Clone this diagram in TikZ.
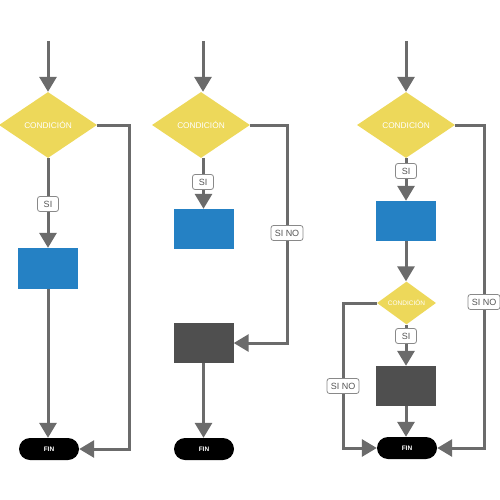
\documentclass[tikz,border=0pt]{standalone}
\usepackage{fontspec}
\setmainfont{Liberation Sans}
\usetikzlibrary{shapes.geometric,arrows.meta}
\definecolor{condyellow}{HTML}{EDD85A}
\definecolor{procblue}{HTML}{2581C4}
\definecolor{procdark}{HTML}{4F4F4F}
\definecolor{linegray}{HTML}{6B6B6B}
\begin{document}
\begin{tikzpicture}[x=1pt,y=-1pt,
  cond/.style={diamond, fill=condyellow, inner sep=0pt, minimum width=98pt, minimum height=66pt, text=white, font=\fontsize{8.3}{9}\selectfont},
  smallcond/.style={cond, minimum width=59pt, minimum height=40pt, font=\fontsize{6.5}{7}\selectfont},
  proc/.style={rectangle, inner sep=0pt, minimum width=60pt, minimum height=40pt},
  fin/.style={rectangle, rounded corners=11pt, fill=black, inner sep=0pt, minimum width=60pt, minimum height=22pt, text=white, font=\fontsize{6.5}{7}\selectfont\bfseries},
  tag/.style={rectangle, rounded corners=2.5pt, draw=linegray!80, line width=0.8pt, fill=white, inner sep=0pt, minimum height=15pt, minimum width=21pt, font=\fontsize{9}{10}\selectfont, text=linegray!80!black},
  flow/.style={draw=linegray, line width=3pt, -{Triangle[length=15pt,width=17pt]}}]
\useasboundingbox (0,0) rectangle (500,500);
\coordinate (top1) at (48,41);
\node[cond] (cond1) at (48,125){CONDICIÓN};
\node[proc, fill=procblue, minimum height=41pt] (proc1) at (48,268.5){};
\node[fin] (fin1) at (49,449){FIN};
\coordinate (turn1) at (129,125);
\draw[flow](top1) -- (cond1.north);
\draw[flow](cond1.south) -- (proc1.north);
\draw[flow](proc1.south) -- (fin1.north -| proc1.south);
\draw[flow](cond1.east) -- (turn1) |- (fin1.east);
\node[tag] (si1) at (48,204){SI};
\coordinate (top2) at (203,41);
\node[cond] (cond2) at (201,125){CONDICIÓN};
\node[proc, fill=procblue] (proc2) at (203.5,229){};
\node[proc, fill=procdark] (dark2) at (203.5,343){};
\node[fin] (fin2) at (204,449){FIN};
\coordinate (turn2) at (287,125);
\draw[flow](top2) -- (cond2.north -| top2);
\draw[flow](proc2.north |- cond2.south) -- (proc2.north);
\draw[flow](cond2.east) -- (turn2) |- (dark2.east);
\draw[flow](dark2.south) -- (fin2.north -| dark2.south);
\node[tag] (si2) at (203,182){SI};
\node[tag, minimum width=32pt] (sino2) at (287,233){SI NO};
\coordinate (top3) at (406,41);
\node[cond] (cond3) at (406,125){CONDICIÓN};
\node[proc, fill=procblue] (proc3) at (406,221){};
\node[smallcond] (cond4) at (406.5,303){CONDICIÓN};
\node[proc, fill=procdark] (dark3) at (406,386){};
\node[fin] (fin3) at (407,448){FIN};
\coordinate (turn3) at (484,125);
\coordinate (turn4) at (343,303);
\draw[flow](top3) -- (cond3.north);
\draw[flow](cond3.south) -- (proc3.north);
\draw[flow](proc3.south) -- (cond4.north -| proc3.south);
\draw[flow](cond4.south -| dark3.north) -- (dark3.north);
\draw[flow](dark3.south) -- (fin3.north -| dark3.south);
\draw[flow](cond3.east) -- (turn3) |- (fin3.east);
\draw[flow](cond4.west) -- (turn4) |- (fin3.west);
\node[tag] (si3) at (406,171){SI};
\node[tag] (si4) at (406,336){SI};
\node[tag, minimum width=32pt] (sino3) at (484,302){SI NO};
\node[tag, minimum width=32pt] (sino4) at (343,386){SI NO};
\end{tikzpicture}
\end{document}
